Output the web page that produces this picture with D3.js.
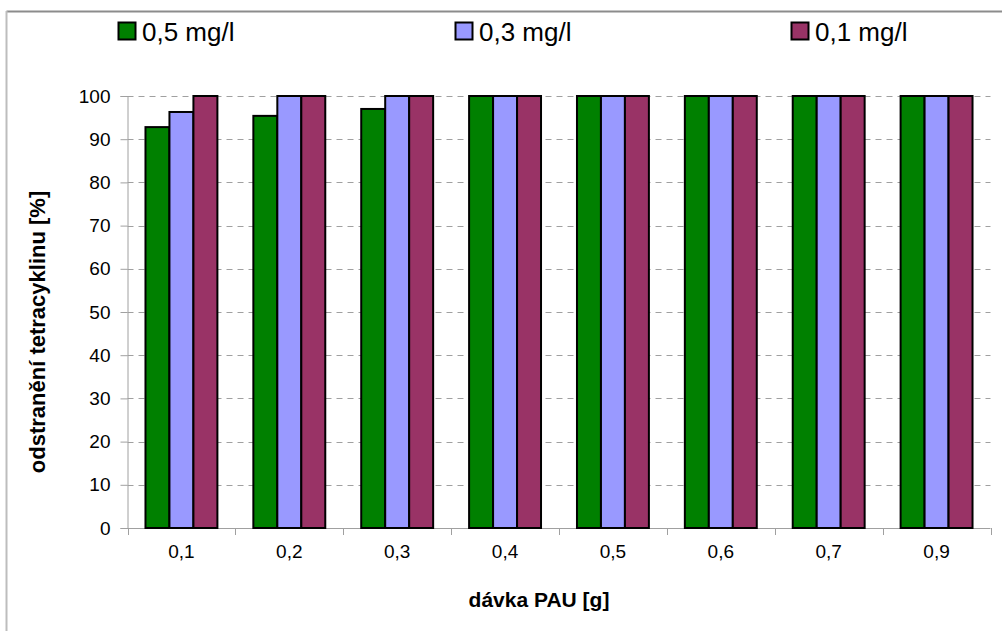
<!DOCTYPE html>
<html>
<head>
<meta charset="utf-8">
<script src="https://cdn.jsdelivr.net/npm/d3@7"></script>
<style>
  body { margin: 0; background: #fff; }
  text { font-family: "Liberation Sans", Arial, sans-serif; fill: #000; }
</style>
</head>
<body>
<script>
// data
var categories = ["0,1", "0,2", "0,3", "0,4", "0,5", "0,6", "0,7", "0,9"];
var series = ["0,5 mg/l", "0,3 mg/l", "0,1 mg/l"];
var v05 = [92.8, 95.4, 97.0, 100, 100, 100, 100, 100];
var v03 = [96.3, 100, 100, 100, 100, 100, 100, 100];
var v01 = [100, 100, 100, 100, 100, 100, 100, 100];
var yTicks = [0, 10, 20, 30, 40, 50, 60, 70, 80, 90, 100];
var colors = ["#008000", "#9999ff", "#993366"];

var values = [v05, v03, v01];

var width = 1002,
    height = 631;

var svg = d3.select("body").append("svg")
    .attr("width", width)
    .attr("height", height);

// outer frame (only top and left edges visible)
svg.append("line").attr("x1", 6.5).attr("x2", width).attr("y1", 11.5).attr("y2", 11.5)
  .attr("stroke", "#8c8c8c").attr("stroke-width", 2);
svg.append("line").attr("x1", 6.5).attr("x2", 6.5).attr("y1", 11).attr("y2", height)
  .attr("stroke", "#bdbdbd").attr("stroke-width", 2);

var plotL = 127.5, plotR = 990.5, plotT = 96, plotB = 528;

var x0 = d3.scaleBand()
  .domain(categories)
  .range([plotL, plotR])
  .paddingInner(0)
  .paddingOuter(0);

var x1 = d3.scaleBand()
  .domain(series)
  .range([0, x0.bandwidth()])
  .paddingInner(0)
  .paddingOuter(0.75);

var y = d3.scaleLinear()
  .domain([0, 100])
  .range([plotB, plotT]);

// grid
svg.append("g").selectAll("line")
  .data(yTicks.filter(function(d){ return d > 0 }))
  .enter().append("line")
  .attr("x1", plotL)
  .attr("x2", plotR)
  .attr("y1", function(d){ return Math.round(y(d)) + 0.5 })
  .attr("y2", function(d){ return Math.round(y(d)) + 0.5 })
  .attr("stroke", "#a0a0a0")
  .attr("stroke-dasharray", "6,5");

// y axis
var yAxis = svg.append("g")
  .attr("transform", "translate(" + plotL + ",0)")
  .call(d3.axisLeft(y).tickValues(yTicks).tickSize(7).tickPadding(10));
yAxis.select(".domain").attr("stroke", "#a0a0a0");
yAxis.selectAll(".tick line").attr("stroke", "#a0a0a0");
yAxis.selectAll(".tick text").style("font-size", "19px").attr("fill", "#000");

// x axis: ticks on category boundaries
var xAxis = svg.append("g")
  .attr("transform", "translate(0," + plotB + ")");
xAxis.append("line")
  .attr("x1", plotL).attr("x2", plotR)
  .attr("y1", 0.5).attr("y2", 0.5)
  .attr("stroke", "#a0a0a0");
xAxis.selectAll(".bound")
  .data(categories.concat(["end"]))
  .enter().append("line")
  .attr("class", "bound")
  .attr("x1", function(d, i){ return Math.round(plotL + i * x0.step()) + 0.5 })
  .attr("x2", function(d, i){ return Math.round(plotL + i * x0.step()) + 0.5 })
  .attr("y1", 0)
  .attr("y2", 7)
  .attr("stroke", "#a0a0a0");
xAxis.selectAll("text")
  .data(categories)
  .enter().append("text")
  .attr("x", function(d){ return x0(d) + x0.bandwidth() / 2 })
  .attr("y", 30)
  .attr("text-anchor", "middle")
  .style("font-size", "19px")
  .text(function(d){ return d });

// bars
var groups = svg.append("g").selectAll("g")
  .data(categories)
  .enter().append("g")
  .attr("transform", function(d){ return "translate(" + x0(d) + ",0)" });

groups.selectAll("rect")
  .data(function(d, i){
    return series.map(function(s, j){ return {s: s, v: values[j][i], c: colors[j]} })
  })
  .enter().append("rect")
  .attr("x", function(d){ return x1(d.s) })
  .attr("y", function(d){ return y(d.v) })
  .attr("width", x1.bandwidth())
  .attr("height", function(d){ return plotB - y(d.v) })
  .attr("fill", function(d){ return d.c })
  .attr("stroke", "#000")
  .attr("stroke-width", 2);

// axis titles
svg.append("text")
  .attr("x", 539)
  .attr("y", 607)
  .attr("text-anchor", "middle")
  .style("font-size", "21px")
  .style("font-weight", "bold")
  .text("dávka PAU [g]");

svg.append("text")
  .attr("transform", "translate(45,332) rotate(-90)")
  .attr("text-anchor", "middle")
  .style("font-size", "22px")
  .style("font-weight", "bold")
  .text("odstranění tetracyklinu [%]");

// legend
var legendX = [118, 455, 791];
var legend = svg.append("g").selectAll("g")
  .data(series)
  .enter().append("g")
  .attr("transform", function(d, i){ return "translate(" + legendX[i] + ",22)" });
legend.append("rect")
  .attr("x", 0.5).attr("y", 0.5)
  .attr("width", 17).attr("height", 17)
  .attr("fill", function(d, i){ return colors[i] })
  .attr("stroke", "#000")
  .attr("stroke-width", 2);
legend.append("text")
  .attr("x", 24)
  .attr("y", 19)
  .style("font-size", "26px")
  .text(function(d){ return d });
</script>
</body>
</html>
